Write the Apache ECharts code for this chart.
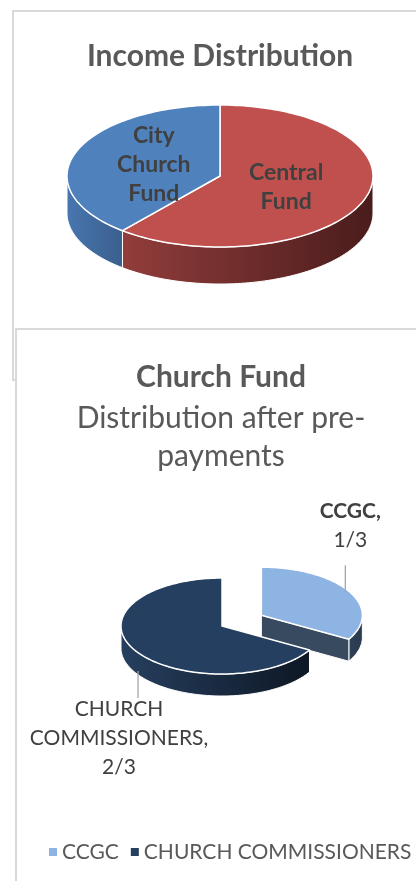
<!DOCTYPE html>
<html><head><meta charset="utf-8">
<script src="https://cdn.jsdelivr.net/npm/echarts@6/dist/echarts.min.js"></script>
<style>html,body{margin:0;padding:0;background:#fff}#main{width:416px;height:881px}</style>
</head><body><div id="main"></div>
<script>
// ---- data ----
const incomeCategories = ['Central Fund', 'City Church Fund'];
const incomeValues = [61, 39];
const churchCategories = ['CCGC', 'CHURCH COMMISSIONERS'];
const churchValues = [0.3333, 0.6667];
const churchValueLabels = ['1/3', '2/3'];

const FONT = 'Lato, Carlito, Calibri, "Open Sans", sans-serif';

// ---- styles / layout ----
const incomeStyle = {
  cx: 220, cy: 176, rx: 153, ry: 71, depth: 37,
  explode: [0, 0],
  top: ['#C0504D', '#4F81BD'],
  side: [['#913D3B', '#4A1C1C'], ['#4876AF', '#3A5F8D']],
  face: ['#6E2C2B', '#3B5E8A'],
  label: { mode: 'inside', factor: 0.46, lineHeight: 29, fontSize: 23, color: '#404040', bold: [true, true] }
};
const churchStyle = {
  cx: 222, cy: 626, rx: 101, ry: 48, depth: 22,
  explode: [0.45, 0],
  top: ['#8DB4E2', '#243F60'],
  side: [['#2E4056', '#2A3B4F'], ['#263F5F', '#0E1724']],
  face: ['#384A60', '#1E3350'],
  label: { mode: 'outside', anchor: 0.96, leader: 27, gapUp: 10, gapDown: -3, dx: [5, -19],
           lineHeight: 29, fontSize: 21, color: '#404040', bold: [true, false], leaderColor: '#A6A6A6' }
};

function arcPts(cx, cy, rx, ry, a0, a1, dy) {
  const n = Math.max(2, Math.ceil(Math.abs(a1 - a0) / (Math.PI / 120)));
  const out = [];
  for (let k = 0; k <= n; k++) {
    const a = a0 + (a1 - a0) * k / n;
    out.push([cx + rx * Math.sin(a), cy - ry * Math.cos(a) + dy]);
  }
  return out;
}

function makePie(names, values, valueLabels, st) {
  const total = values.reduce((a, b) => a + b, 0);
  return names.map((name, i) => ({
    type: 'custom',
    name: name,
    coordinateSystem: 'none',
    silent: true,
    animation: false,
    itemStyle: { color: st.top[i] },
    data: [[values[i]]],
    renderItem: function (params, api) {
      const v = api.value(0);
      const before = values.slice(0, i).reduce((a, b) => a + b, 0);
      const s = before / total * Math.PI * 2;
      const e = s + v / total * Math.PI * 2;
      const mid = (s + e) / 2;
      const ex = st.explode[i] || 0;
      const cx = st.cx + ex * st.rx * Math.sin(mid);
      const cy = st.cy - ex * st.ry * Math.cos(mid);
      const base = ex > 0 ? 0 : 10;
      const children = [];
      // outer side wall (front half only)
      const a0 = Math.max(s, Math.PI / 2), a1 = Math.min(e, Math.PI * 1.5);
      if (a1 > a0) {
        const topArc = arcPts(cx, cy, st.rx, st.ry, a0, a1, 0);
        const botArc = arcPts(cx, cy, st.rx, st.ry, a0, a1, st.depth).reverse();
        const xs = topArc.map(p => p[0]);
        const grad = new echarts.graphic.LinearGradient(Math.min.apply(null, xs), 0, Math.max.apply(null, xs), 0,
          [{ offset: 0, color: st.side[i][0] }, { offset: 1, color: st.side[i][1] }], true);
        children.push({ type: 'polygon', shape: { points: topArc.concat(botArc) },
          style: { fill: grad, stroke: '#ffffff', lineWidth: 1 }, z2: base + 1 });
      }
      // radial cut faces for exploded slices
      if (ex > 0) {
        const faces = [];
        if (Math.sin(s) < -0.01) faces.push(s);
        if (Math.sin(e) > 0.01) faces.push(e);
        faces.forEach(a => {
          const px = cx + st.rx * Math.sin(a), py = cy - st.ry * Math.cos(a);
          children.push({ type: 'polygon',
            shape: { points: [[cx, cy], [px, py], [px, py + st.depth], [cx, cy + st.depth]] },
            style: { fill: st.face[i], stroke: '#ffffff', lineWidth: 1 }, z2: base + 1 });
        });
      }
      // top face
      const topPts = [[cx, cy]].concat(arcPts(cx, cy, st.rx, st.ry, s, e, 0));
      children.push({ type: 'polygon', shape: { points: topPts },
        style: { fill: st.top[i], stroke: '#ffffff', lineWidth: 1.5, lineJoin: 'round' }, z2: base + 2 });
      // label
      const L = st.label;
      const words = name.split(' ').join('\n');
      const bold = L.bold[i];
      if (L.mode === 'inside') {
        const lx = cx + L.factor * st.rx * Math.sin(mid);
        const ly = cy - L.factor * st.ry * Math.cos(mid);
        children.push({ type: 'text', x: lx, y: ly, z2: 50,
          style: { text: words, fill: L.color, fontFamily: FONT, fontSize: L.fontSize,
                   fontWeight: bold ? 'bold' : 'normal', lineHeight: L.lineHeight,
                   align: 'center', verticalAlign: 'middle' } });
      } else {
        const ax = cx + L.anchor * st.rx * Math.sin(mid);
        let ay = cy - L.anchor * st.ry * Math.cos(mid);
        const down = Math.cos(mid) < 0;
        if (down) ay += st.depth;
        const ey = down ? ay + L.leader : ay - L.leader;
        children.push({ type: 'line', shape: { x1: ax, y1: ay, x2: ax, y2: ey },
          style: { stroke: L.leaderColor, lineWidth: 1.3 }, z2: 49 });
        const txt = (bold ? '{b|' + words + ',}' : words + ',') + '\n' + valueLabels[i];
        children.push({ type: 'text', x: ax + L.dx[i], y: down ? ey + L.gapDown : ey - L.gapUp, z2: 50,
          style: { text: txt, fill: L.color, fontFamily: FONT, fontSize: L.fontSize,
                   fontWeight: 'normal', lineHeight: L.lineHeight,
                   align: 'center', verticalAlign: down ? 'top' : 'bottom',
                   rich: { b: { fontWeight: 'bold', fontFamily: FONT, fontSize: L.fontSize,
                                fill: L.color, lineHeight: L.lineHeight } } } });
      }
      return { type: 'group', children: children };
    }
  }));
}

const chart = echarts.init(document.getElementById('main'), null, { renderer: 'canvas' });
chart.setOption({
  animation: false,
  backgroundColor: '#ffffff',
  title: [
    { text: 'Income Distribution', left: 220, top: 36, textAlign: 'center', padding: 0,
      textStyle: { fontFamily: FONT, fontWeight: 'bold', fontSize: 30, color: '#595959', lineHeight: 40 } },
    { text: 'Church Fund', subtext: 'Distribution after pre-\npayments', left: 221, top: 357,
      textAlign: 'center', padding: 0, itemGap: 2,
      textStyle: { fontFamily: FONT, fontWeight: 'bold', fontSize: 30, color: '#595959', lineHeight: 40 },
      subtextStyle: { fontFamily: FONT, fontWeight: 'normal', fontSize: 30, color: '#595959', lineHeight: 38 } }
  ],
  legend: {
    data: churchCategories, left: 49, top: 838, width: 400, padding: 0, icon: 'rect',
    itemWidth: 8, itemHeight: 8, itemGap: 12, selectedMode: false,
    textStyle: { fontFamily: FONT, fontSize: 21, color: '#595959', lineHeight: 28 }
  },
  graphic: [
    { type: 'rect', z: 0, silent: true, shape: { x: 13, y: 11, width: 440, height: 369 },
      style: { fill: '#ffffff', stroke: '#D9D9D9', lineWidth: 2 } },
    { type: 'rect', z: 1, silent: true, shape: { x: 16, y: 329, width: 440, height: 600 },
      style: { fill: '#ffffff', stroke: '#D9D9D9', lineWidth: 2 } }
  ],
  series: makePie(incomeCategories, incomeValues, null, incomeStyle)
    .concat(makePie(churchCategories, churchValues, churchValueLabels, churchStyle))
});
</script>
</body></html>
